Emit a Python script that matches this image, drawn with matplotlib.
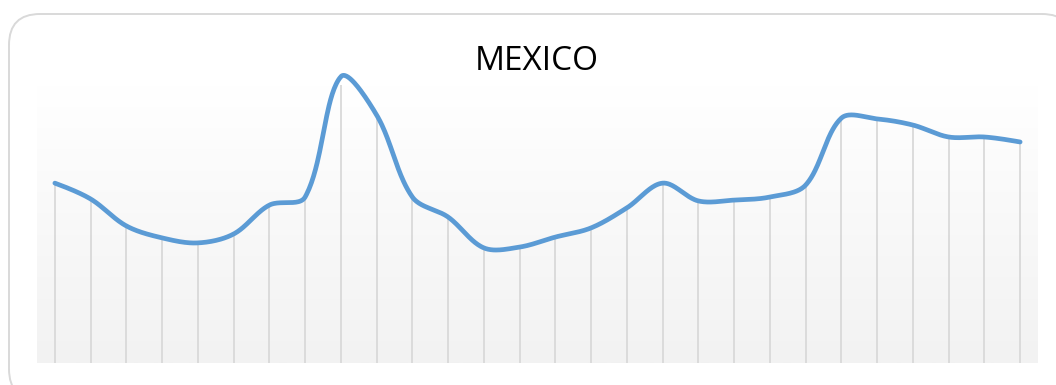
import numpy as np
import matplotlib
matplotlib.use("Agg")
import matplotlib.pyplot as plt
from matplotlib.patches import FancyBboxPatch

title = "MEXICO"
categories = list(range(1, 29))
values = [64.7, 59.0, 49.3, 45.0, 43.2, 46.4, 56.8, 59.7, 103.0, 89.2,
          59.7, 52.5, 41.4, 41.7, 45.3, 48.6, 55.8, 64.7, 58.3, 58.6,
          59.7, 64.0, 88.1, 87.8, 85.6, 81.3, 81.3, 79.5]

W, H = 1056, 385
fig = plt.figure(figsize=(W / 100, H / 100), dpi=100)
fig.patch.set_facecolor("white")

# background axes in pixel coordinates for the rounded border
bg = fig.add_axes([0, 0, 1, 1])
bg.set_xlim(0, W)
bg.set_ylim(H, 0)
bg.axis("off")
border = FancyBboxPatch((9, 14), 1073 - 9, 400 - 14,
                        boxstyle="round,pad=0,rounding_size=31",
                        facecolor="white", edgecolor="#d9d9d9", linewidth=1.4)
bg.add_patch(border)

left, right, top, bottom = 37, 1038, 85, 363
ax = fig.add_axes([left / W, 1 - bottom / H, (right - left) / W, (bottom - top) / H])
x = np.arange(len(categories))

# gradient background (white at top to light grey at bottom)
grad = np.linspace(0, 1, 256).reshape(-1, 1)
c_top = np.array([1.0, 1.0, 1.0])
c_bot = np.array([0xf2, 0xf2, 0xf2]) / 255
img = c_top + (c_bot - c_top) * grad[:, :, None]
ax.imshow(img, extent=[-0.5, len(values) - 0.5, 0, 100], origin="upper",
          aspect="auto", zorder=0)
ax.set_xlim(-0.5, len(values) - 0.5)
ax.set_ylim(0, 100)

# drop lines
ax.vlines(x, 0, values, colors="#d9d9d9", linewidth=1.3, zorder=1)

# smooth curve (Excel-style Bezier through the points, computed in display space)
fig.canvas.draw()
P = ax.transData.transform(np.column_stack([x, values]).astype(float))
n = len(P)
cin = P.copy()
cout = P.copy()
for i in range(1, n - 1):
    T = P[i + 1] - P[i - 1]
    dp = np.hypot(*(P[i] - P[i - 1]))
    dn = np.hypot(*(P[i + 1] - P[i]))
    cin[i] = P[i] - T * dp / (dp + dn) / 3
    cout[i] = P[i] + T * dn / (dp + dn) / 3
# end points: aim toward the neighbouring control
cout[0] = P[0] + (cin[1] - P[0]) / 3
cin[-1] = P[-1] + (cout[-2] - P[-1]) / 3
t = np.linspace(0, 1, 40)[:, None]
segs = []
for i in range(n - 1):
    seg = (1 - t) ** 3 * P[i] + 3 * (1 - t) ** 2 * t * cout[i] + \
          3 * (1 - t) * t ** 2 * cin[i + 1] + t ** 3 * P[i + 1]
    segs.append(seg if i == 0 else seg[1:])
curve = ax.transData.inverted().transform(np.vstack(segs))
ax.plot(curve[:, 0], curve[:, 1], color="#5b9bd5", linewidth=3.4,
        solid_capstyle="round", solid_joinstyle="round", clip_on=False, zorder=3)

for s in ax.spines.values():
    s.set_visible(False)
ax.set_xticks([])
ax.set_yticks([])

fig.text(537 / W, 1 - 70 / H, title, ha="center", va="baseline",
         fontsize=24, family=["Open Sans", "DejaVu Sans"], color="black")

fig.savefig("out.png", dpi=100)
